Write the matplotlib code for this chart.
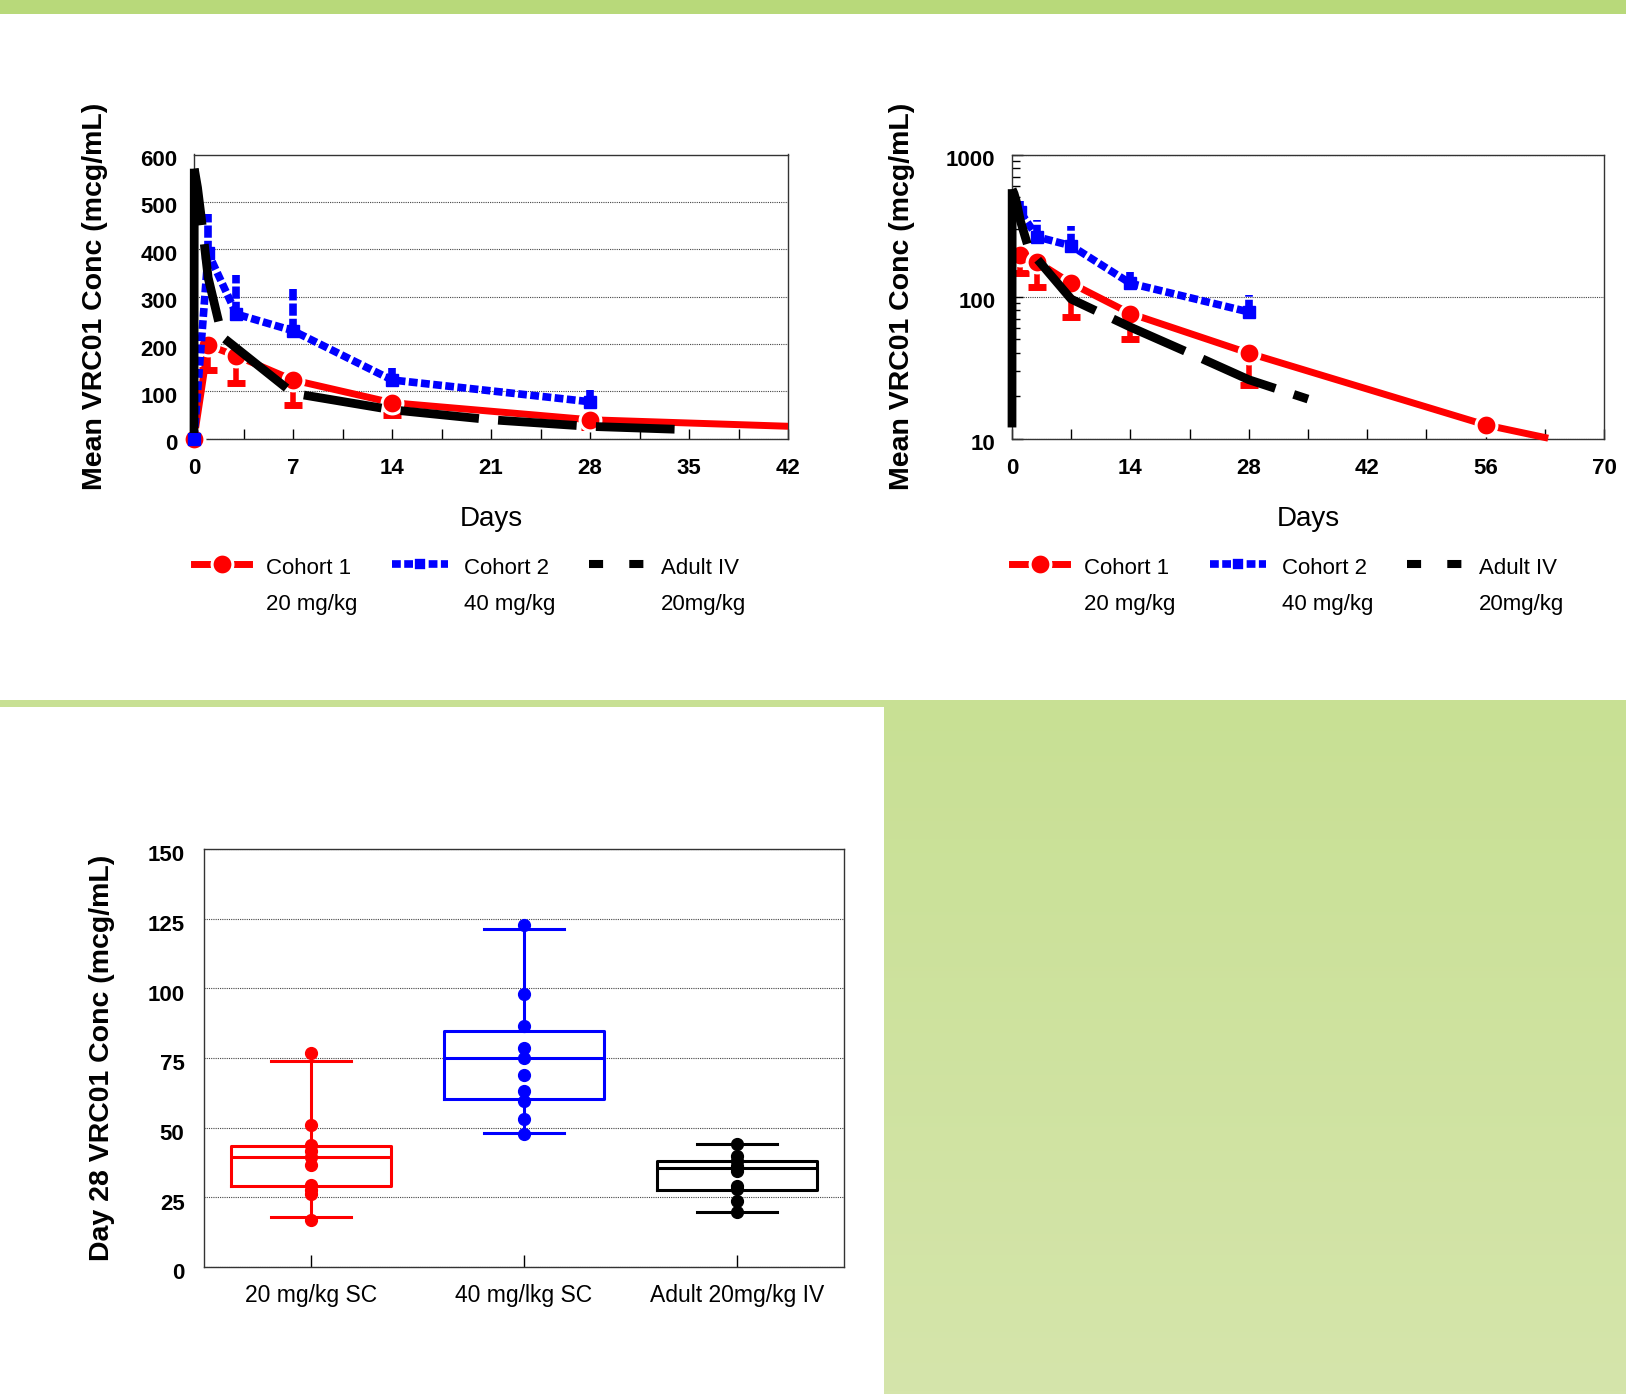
import numpy as np
import matplotlib
matplotlib.use("Agg")
import matplotlib.pyplot as plt
from matplotlib.lines import Line2D
from matplotlib.patches import Rectangle
from matplotlib.transforms import ScaledTranslation
from matplotlib.ticker import MultipleLocator, FixedLocator, NullFormatter

plt.rcParams['font.family'] = ['Liberation Sans', 'DejaVu Sans']

W, H = 1626, 1394
RED = '#FF0000'
BLUE = '#0000FF'

# ---- PK curves (mean conc, mcg/mL) ----
c1_days = [0, 1, 3, 7, 14, 28, 56, 63]
c1_mean = [0, 197, 175, 124, 76, 40, 12.5, 10.2]
c1_lower = [146, 117, 72, 50, 24]          # lower error at days 1,3,7,14,28

c2_days = [0, 1, 3, 7, 14, 28]
c2_mean = [0, 392, 263, 228, 124, 78]
c2_upper = [474, 345, 315, 150, 102]       # upper error at days 1,3,7,14,28

iv_days = [0, 0.02, 0.25, 0.5, 1, 2, 7, 14, 21, 28, 35]
iv_mean = [12, 570, 530, 470, 340, 215, 96, 61, 40, 26, 19]

legend_names = ['Cohort 1', 'Cohort 2', 'Adult IV']
legend_doses = ['20 mg/kg', '40 mg/kg', '20mg/kg']

# ---- day 28 box plot ----
groups = ['20 mg/kg SC', '40 mg/lkg SC', 'Adult 20mg/kg IV']
box_q1 = [29.0, 60.3, 27.8]
box_med = [39.3, 74.9, 35.5]
box_q3 = [43.3, 84.7, 37.9]
box_lo = [17.9, 48.1, 19.8]
box_hi = [74.0, 121.4, 44.2]
pts_c1 = [76.7, 51.0, 43.9, 41.7, 39.5, 36.5, 29.6, 27.5, 26.3, 16.7]
pts_c2 = [122.8, 97.8, 86.6, 78.7, 75.1, 68.9, 63.3, 59.4, 53.2, 47.7]
pts_iv = [44.2, 39.7, 37.9, 36.1, 34.3, 29.2, 28.0, 23.6, 19.8]
box_colors = [RED, BLUE, 'black']


def fx(x):
    return x / W


def fy(y):
    return 1 - y / H


fig = plt.figure(figsize=(W / 100, H / 100), dpi=100)
fig.patch.set_facecolor('white')

# background decoration
fig.add_artist(Rectangle((0, fy(14)), 1, 14 / H, transform=fig.transFigure,
                         color='#B8D97A', zorder=-2, lw=0))
fig.add_artist(Rectangle((0, fy(707)), 1, 7 / H, transform=fig.transFigure,
                         color='#C8E094', zorder=-2, lw=0))
bg = fig.add_axes([fx(884), 0, 1 - fx(884), 694 / H], zorder=-1)
c_top = np.array([200, 224, 148]) / 255
c_bot = np.array([213, 229, 171]) / 255
t = np.linspace(0, 1, 200)[:, None, None]
bg.imshow(c_top + (c_bot - c_top) * t, aspect='auto', extent=[0, 1, 0, 1])
bg.axis('off')


def clip_box(ax, artists):
    for a in artists:
        a.set_clip_path(Rectangle((-0.045, -0.07), 1.045, 1.07, transform=ax.transAxes))


def style_axes(ax, ydrop=3.6):
    for s in ax.spines.values():
        s.set_linewidth(1.0)
        s.set_color('#333333')
    ax.yaxis.grid(True, which='major', linestyle=(0, (1, 1)), color='#444444', lw=0.8)
    ax.set_axisbelow(True)
    off = ScaledTranslation(0, -ydrop / 100, fig.dpi_scale_trans)
    for lab in ax.get_yticklabels():
        lab.set_transform(lab.get_transform() + off)
    for lab in ax.get_xticklabels() + ax.get_yticklabels():
        lab.set_fontweight('bold')
        lab.set_fontsize(16)


def pk_panel(ax):
    ln1, = ax.plot(c1_days, c1_mean, color=RED, lw=5, marker='o', ms=15,
                   mfc=RED, mec='white', mew=2.2, markevery=list(range(7)), zorder=3)
    m1 = np.array(c1_mean[1:6])
    eb1 = ax.errorbar(c1_days[1:6], m1, yerr=[m1 - np.array(c1_lower), np.zeros(5)],
                      fmt='none', ecolor=RED, elinewidth=4, capsize=6.8, capthick=5, zorder=2)
    eb1[1][1].set_visible(False)
    m2 = np.array(c2_mean[1:])
    eb2 = ax.errorbar(c2_days[1:], m2, yerr=[np.zeros(5), np.array(c2_upper) - m2],
                      fmt='none', ecolor=BLUE, elinewidth=5.5, capsize=0, zorder=4)
    eb2[2][0].set_linestyle((0, (1.6, 0.4)))
    ln2, = ax.plot(c2_days, c2_mean, color=BLUE, lw=5.5, ls=(0, (1.15, 0.45)),
                   marker='s', ms=8, mfc=BLUE, mec=BLUE, zorder=4)
    # infusion (solid) then decay (long dashes)
    ln3, = ax.plot(iv_days[:2], iv_mean[:2], color='black', lw=6.3, zorder=5,
                   solid_capstyle='butt')
    ln4, = ax.plot(iv_days[1:], iv_mean[1:], color='black', lw=6.3, ls=(2.5, (9, 2.2)),
                   zorder=5)
    clip_box(ax, [ln1, ln2, ln3, ln4])
    ax.set_xlabel('Days', fontsize=20)
    ax.set_ylabel('Mean VRC01 Conc (mcg/mL)', fontsize=20.5, fontweight='bold')


# ---- top-left: linear ----
ax1 = fig.add_axes([fx(194), fy(438.7), 594 / W, 284.2 / H])
pk_panel(ax1)
ax1.set_xlim(0, 42)
ax1.set_ylim(0, 600)
ax1.xaxis.set_major_locator(MultipleLocator(7))
ax1.xaxis.set_minor_locator(MultipleLocator(3.5))
ax1.yaxis.set_major_locator(MultipleLocator(100))
ax1.tick_params(axis='x', which='both', direction='in', length=7, width=1, pad=14)
ax1.tick_params(axis='y', which='both', length=0, pad=12)
style_axes(ax1)
ax1.xaxis.set_label_coords(0.5, -0.238)
ax1.yaxis.set_label_coords(-0.145, 0.5)

# ---- top-right: log ----
ax2 = fig.add_axes([fx(1012), fy(438.7), 592 / W, 284.2 / H])
ax2.set_yscale('log', nonpositive='mask')
pk_panel(ax2)
ax2.set_xlim(0, 70)
ax2.set_ylim(10, 1000)
ax2.xaxis.set_major_locator(MultipleLocator(14))
ax2.xaxis.set_minor_locator(MultipleLocator(7))
ax2.yaxis.set_major_locator(FixedLocator([10, 100, 1000]))
ax2.set_yticklabels(['10', '100', '1000'])
ax2.yaxis.set_minor_locator(FixedLocator([m * d for d in (10, 100) for m in range(2, 10)]))
ax2.yaxis.set_minor_formatter(NullFormatter())
ax2.tick_params(axis='x', which='both', direction='in', length=7, width=1, pad=14)
ax2.tick_params(axis='y', which='major', direction='in', length=8, width=1, pad=12)
ax2.tick_params(axis='y', which='minor', direction='in', length=6, width=1)
style_axes(ax2)
ax2.xaxis.set_label_coords(0.5, -0.238)
ax2.yaxis.set_label_coords(-0.164, 0.5)


# ---- legends ----
def draw_legend(x0, y0):
    sp = 197.5
    h = [
        Line2D([fx(x0), fx(x0 + 27.5), fx(x0 + 55)], [fy(y0)] * 3, color=RED, lw=5,
               marker='o', ms=15, mfc=RED, mec='white', mew=2.2, markevery=[1]),
        Line2D([fx(x0 + sp), fx(x0 + sp + 28), fx(x0 + sp + 56)], [fy(y0)] * 3, color=BLUE,
               lw=5.5, ls=(0, (1.15, 0.45)), marker='s', ms=8.5, mfc=BLUE, mec='white',
               mew=1.2, markevery=[1]),
        Line2D([fx(x0 + 2 * sp), fx(x0 + 2 * sp + 56)], [fy(y0)] * 2, color='black',
               lw=5.8, ls=(0, (1.75, 3.25))),
    ]
    for i, ln in enumerate(h):
        ln.set_transform(fig.transFigure)
        fig.add_artist(ln)
        fig.text(fx(x0 + 72 + i * sp), fy(y0 + 4), legend_names[i], fontsize=16,
                 ha='left', va='center')
        fig.text(fx(x0 + 72 + i * sp), fy(y0 + 40), legend_doses[i], fontsize=16,
                 ha='left', va='center')


draw_legend(194, 564)
draw_legend(1012, 564)

# ---- bottom: day 28 box plot ----
ax3 = fig.add_axes([fx(204), fy(1267), 640 / W, 418 / H])
stats = [dict(med=box_med[i], q1=box_q1[i], q3=box_q3[i], whislo=box_lo[i],
              whishi=box_hi[i], fliers=[], label=groups[i]) for i in range(3)]
bp = ax3.bxp(stats, positions=[1, 2, 3], widths=0.75, capwidths=0.375, showfliers=False)
for i, c in enumerate(box_colors):
    bp['boxes'][i].set(color=c, lw=2.2)
    bp['medians'][i].set(color=c, lw=2.2)
    for k in (2 * i, 2 * i + 1):
        bp['whiskers'][k].set(color=c, lw=2.2)
        bp['caps'][k].set(color=c, lw=2.2)
for i, (pts, c) in enumerate(zip([pts_c1, pts_c2, pts_iv], box_colors)):
    ax3.plot([i + 1] * len(pts), pts, 'o', color=c, ms=8.5, zorder=4, clip_on=False)
ax3.set_xlim(0.5, 3.5)
ax3.set_ylim(0, 150)
ax3.yaxis.set_major_locator(MultipleLocator(25))
ax3.set_xticks([1, 2, 3])
ax3.set_xticklabels(groups)
ax3.tick_params(axis='x', direction='in', length=9, width=1, pad=12)
ax3.tick_params(axis='y', length=0, pad=14)
style_axes(ax3, ydrop=4.2)
for lab in ax3.get_xticklabels():
    lab.set_fontweight('normal')
    lab.set_fontsize(16.5)
ax3.set_ylabel('Day 28 VRC01 Conc (mcg/mL)', fontsize=20.5, fontweight='bold')
ax3.yaxis.set_label_coords(-0.139, 0.5)

fig.savefig('out.png', dpi=100)
